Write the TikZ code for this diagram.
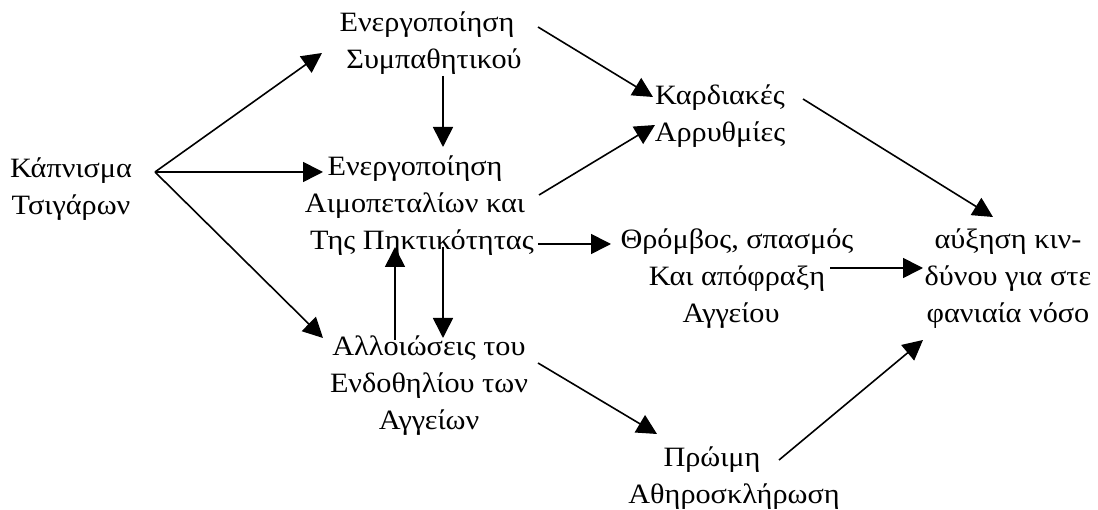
\documentclass[tikz,border=0pt]{standalone}
\usepackage{fontspec}
\setmainfont[FakeStretch=1.08]{Liberation Serif}
\usetikzlibrary{arrows.meta,calc}
\tikzset{
  lbl/.style={align=center, inner sep=0pt, font={\fontsize{28}{37}\selectfont}},
  arr/.style={line width=1.6pt, -{Triangle[length=20pt,width=20pt]}}
}
\begin{document}
\begin{tikzpicture}[x=1pt,y=-1pt]
\fill[white] (0,0) rectangle (1098,510);
\useasboundingbox (0,0) rectangle (1098,510);

\node[lbl] (smoke)  at (71,189.5) {Κάπνισμα\\Τσιγάρων};
\node[lbl] (symp)   at (427,43.5) {Ενεργοποίηση\\\hspace*{14pt}Συμπαθητικού};
\node[lbl] (plat)   at (415,206)  {Ενεργοποίηση\\Αιμοπεταλίων και\\\hspace*{14pt}Της Πηκτικότητας};
\node[lbl] (endo)   at (429,386)  {Αλλοιώσεις του\\Ενδοθηλίου των\\Αγγείων};
\node[lbl] (arr)    at (720,116)  {Καρδιακές\\Αρρυθμίες};
\node[lbl] (thromb) at (737,279)  {Θρόμβος, σπασμός\\Και απόφραξη\hspace*{26pt}\\Αγγείου\hspace*{12pt}};
\node[lbl] (risk)   at (1008,279) {αύξηση κιν-\\δύνου για στε\\φανιαία νόσο};
\node[lbl] (early)  at (734,478)  {Πρώιμη\hspace*{44pt}\\Αθηροσκλήρωση};

\draw[arr] ($(smoke)+(84,-17.5)$) -- ($(symp)+(-105,9.5)$);
\draw[arr] ($(smoke)+(84,-17.5)$) -- ($(plat)+(-92,-34)$);
\draw[arr] ($(smoke)+(84,-17.5)$) -- ($(endo)+(-106,-48)$);
\draw[arr] ($(symp)+(16,32.5)$) -- ($(plat)+(28,-59)$);
\draw[arr] ($(endo)+(-34,-46)$) -- ($(plat)+(-20,41)$);
\draw[arr] ($(plat)+(28,41)$) -- ($(endo)+(14,-48)$);
\draw[arr] ($(symp)+(111,-16.5)$) -- ($(arr)+(-67,-19)$);
\draw[arr] ($(plat)+(124,-11)$) -- ($(arr)+(-65,9)$);
\draw[arr] ($(plat)+(123,38)$) -- ($(thromb)+(-126,-35)$);
\draw[arr] ($(arr)+(83,-17)$) -- ($(risk)+(-15,-62)$);
\draw[arr] ($(thromb)+(93,-11)$) -- ($(risk)+(-85,-11)$);
\draw[arr] ($(endo)+(109,-23)$) -- ($(early)+(-77,-44)$);
\draw[arr] ($(early)+(45,-18)$) -- ($(risk)+(-85,61)$);
\end{tikzpicture}
\end{document}
